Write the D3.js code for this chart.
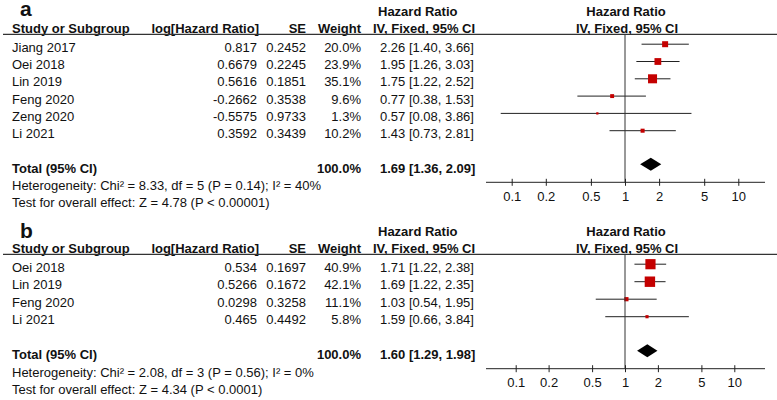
<!DOCTYPE html>
<html lang="en">
<head>
<meta charset="UTF-8">
<title>Forest plots</title>
<script src="https://d3js.org/d3.v7.min.js"></script>
<style>
  body { margin: 0; background: #fff; }
  svg text { font-family: "Liberation Sans", Arial, sans-serif; fill: #111; }
</style>
</head>
<body>
<svg id="chart" width="777" height="400"></svg>
<script>
// panel a
const studiesA = ["Jiang 2017", "Oei 2018", "Lin 2019", "Feng 2020", "Zeng 2020", "Li 2021"];
const logHrA = [0.817, 0.6679, 0.5616, -0.2662, -0.5575, 0.3592];
const seA = [0.2452, 0.2245, 0.1851, 0.3538, 0.9733, 0.3439];
const weightA = [20.0, 23.9, 35.1, 9.6, 1.3, 10.2];
const hrA = [2.26, 1.95, 1.75, 0.77, 0.57, 1.43];
const lowA = [1.40, 1.26, 1.22, 0.38, 0.08, 0.73];
const highA = [3.66, 3.03, 2.52, 1.53, 3.86, 2.81];
const totalA = [1.69, 1.36, 2.09];
const hetA = "Heterogeneity: Chi² = 8.33, df = 5 (P = 0.14); I² = 40%";
const testA = "Test for overall effect: Z = 4.78 (P < 0.00001)";

// panel b
const studiesB = ["Oei 2018", "Lin 2019", "Feng 2020", "Li 2021"];
const logHrB = [0.534, 0.5266, 0.0298, 0.465];
const seB = [0.1697, 0.1672, 0.3258, 0.4492];
const weightB = [40.9, 42.1, 11.1, 5.8];
const hrB = [1.71, 1.69, 1.03, 1.59];
const lowB = [1.22, 1.22, 0.54, 0.66];
const highB = [2.38, 2.35, 1.95, 3.84];
const totalB = [1.60, 1.29, 1.98];
const hetB = "Heterogeneity: Chi² = 2.08, df = 3 (P = 0.56); I² = 0%";
const testB = "Test for overall effect: Z = 4.34 (P < 0.0001)";

const tickValues = [0.1, 0.2, 0.5, 1, 2, 5, 10];

const svg = d3.select("#chart");
const fs = 13;
const boxSize = d3.scaleLinear().domain([0, 45]).range([2, 11]);

function drawPanel(p) {
  const g = svg.append("g").attr("transform", `translate(0,${p.top})`);
  const x = d3.scaleLog().domain([0.1, 10]).range(p.tickRange);
  const step = p.step;
  const hdr = 33.3;
  const rowY = i => hdr + 18.4 + i * step; // text baseline
  const n = p.studies.length;
  const totalY = hdr + 18.4 + (n + 1) * step;
  const axisY = totalY + 9.5;

  // panel letter
  g.append("text").attr("x", 20).attr("y", p.letterY)
    .attr("font-size", 21).attr("font-weight", "bold").text(p.letter);

  // headers
  const bold = (t, xx, yy, anchor) => g.append("text").attr("x", xx).attr("y", yy)
    .attr("font-size", fs).attr("font-weight", "bold").attr("text-anchor", anchor || "start").text(t);
  bold("Hazard Ratio", 378, hdr - 17);
  bold("Hazard Ratio", 626, hdr - 17, "middle");
  bold("Study or Subgroup", 12, hdr);
  bold("log[Hazard Ratio]", 259, hdr, "end");
  bold("SE", 306, hdr, "end");
  bold("Weight", 361, hdr, "end");
  bold("IV, Fixed, 95% CI", 373, hdr);
  bold("IV, Fixed, 95% CI", 627, hdr, "middle");

  g.append("line").attr("x1", 3).attr("x2", 777).attr("y1", hdr + 1).attr("y2", hdr + 1)
    .attr("stroke", "#333").attr("stroke-width", 1.2);

  // study rows
  const rows = g.selectAll("g.row").data(p.studies.map((s, i) => ({
    name: s, lhr: p.logHr[i], se: p.se[i], w: p.weight[i], hr: p.hr[i], lo: p.low[i], hi: p.high[i], i
  }))).enter().append("g").attr("class", "row");

  const txt = (sel, xx, anchor, f) => sel.append("text").attr("x", xx).attr("y", d => rowY(d.i))
    .attr("font-size", fs).attr("text-anchor", anchor).text(f);
  txt(rows, 12, "start", d => d.name);
  txt(rows, 257, "end", d => String(d.lhr));
  txt(rows, 306, "end", d => String(d.se));
  txt(rows, 361, "end", d => d.w.toFixed(1) + "%");
  txt(rows, 380, "start", d => `${d.hr.toFixed(2)} [${d.lo.toFixed(2)}, ${d.hi.toFixed(2)}]`);

  // reference line
  g.append("line").attr("x1", x(1)).attr("x2", x(1)).attr("y1", hdr + 1).attr("y2", axisY)
    .attr("stroke", "#333").attr("stroke-width", 1);

  rows.append("line")
    .attr("x1", d => x(d.lo)).attr("x2", d => x(d.hi))
    .attr("y1", d => rowY(d.i) - 7.5).attr("y2", d => rowY(d.i) - 7.5)
    .attr("stroke", "#222").attr("stroke-width", 1);
  rows.append("rect")
    .attr("x", d => x(d.hr) - boxSize(d.w) / 2)
    .attr("y", d => rowY(d.i) - 7.5 - boxSize(d.w) / 2)
    .attr("width", d => boxSize(d.w)).attr("height", d => boxSize(d.w))
    .attr("fill", "#c40000");

  // total row
  g.append("text").attr("x", 12).attr("y", totalY).attr("font-size", fs)
    .attr("font-weight", "bold").text("Total (95% CI)");
  g.append("text").attr("x", 361).attr("y", totalY).attr("font-size", fs)
    .attr("font-weight", "bold").attr("text-anchor", "end").text("100.0%");
  g.append("text").attr("x", 380).attr("y", totalY).attr("font-size", fs).attr("font-weight", "bold")
    .text(`${p.total[0].toFixed(2)} [${p.total[1].toFixed(2)}, ${p.total[2].toFixed(2)}]`);
  const dy = totalY - 8.5;
  g.append("path")
    .attr("d", `M${x(p.total[1])},${dy} L${x(p.total[0])},${dy - 6.5} L${x(p.total[2])},${dy} L${x(p.total[0])},${dy + 6.5} Z`)
    .attr("fill", "#000");

  g.append("text").attr("x", 12).attr("y", totalY + 17.3).attr("font-size", fs).text(p.het);
  g.append("text").attr("x", 12).attr("y", totalY + 34.3).attr("font-size", fs).text(p.test);

  // axis
  g.append("line").attr("x1", 486).attr("x2", 765).attr("y1", axisY).attr("y2", axisY)
    .attr("stroke", "#222").attr("stroke-width", 1);
  const ax = g.append("g").attr("transform", `translate(0,${axisY})`)
    .call(d3.axisBottom(x).tickValues(tickValues).tickFormat(d3.format("")).tickSize(4).tickPadding(5));
  ax.select(".domain").remove();
  ax.selectAll(".tick line").attr("y1", -3.5).attr("y2", 3.5).attr("stroke", "#222");
  ax.selectAll(".tick text").attr("font-size", fs).attr("font-family", "Liberation Sans, Arial, sans-serif")
    .attr("fill", "#111");
}

drawPanel({
  top: 0, letter: "a", letterY: 15.5, step: 17.3, tickRange: [511.7, 738.3],
  studies: studiesA, logHr: logHrA, se: seA, weight: weightA, hr: hrA, low: lowA, high: highA,
  total: totalA, het: hetA, test: testA
});
drawPanel({
  top: 220, letter: "b", letterY: 18, step: 17.5, tickRange: [515.7, 734.3],
  studies: studiesB, logHr: logHrB, se: seB, weight: weightB, hr: hrB, low: lowB, high: highB,
  total: totalB, het: hetB, test: testB
});
</script>
</body>
</html>
